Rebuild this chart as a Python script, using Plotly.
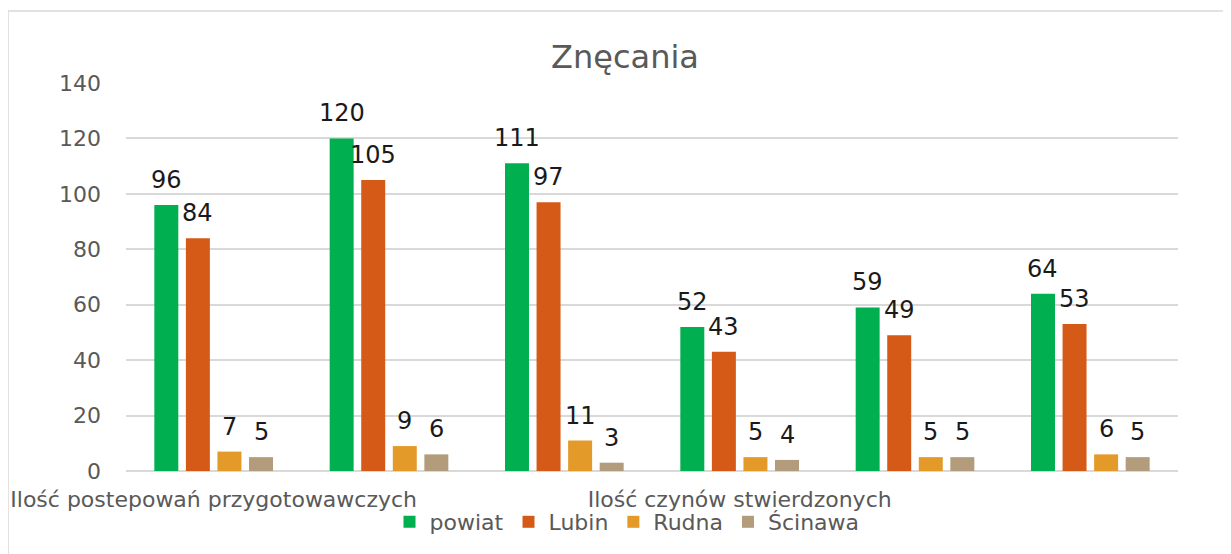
import plotly.graph_objects as go

groups = [0, 1, 2, 3, 4, 5]
tick_positions = [0, 3]
tick_labels = ["Ilość postepowań przygotowawczych", "Ilość czynów stwierdzonych"]

series_names = ["powiat", "Lubin", "Rudna", "Ścinawa"]
powiat = [96, 120, 111, 52, 59, 64]
lubin = [84, 105, 97, 43, 49, 53]
rudna = [7, 9, 11, 5, 5, 6]
scinawa = [5, 6, 3, 4, 5, 5]
series_values = [powiat, lubin, rudna, scinawa]
colors = ["#00B050", "#D65A17", "#E39A28", "#B39C7C"]

FONT = "DejaVu Sans"
W, H = 1231, 554
OFF = 8  # page body margin
# plot area in page pixels: x 126..1178, y 83..471
ml, mt = 126 - OFF, 83 - OFF
mr, mb = W - (1178 - OFF), H - (471 - OFF)
pw, ph = W - ml - mr, H - mt - mb
bargap = 0.28
slot = (1 - bargap) / len(series_names)

fig = go.Figure()
for name, vals, col in zip(series_names, series_values, colors):
    fig.add_trace(go.Bar(
        x=groups, y=vals, name=name,
        marker=dict(color=col, line=dict(width=0)),
    ))

annotations = []
for i, vals in enumerate(series_values):
    for j, v in zip(groups, vals):
        annotations.append(dict(
            x=j + (i - (len(series_names) - 1) / 2) * slot, y=v,
            xref="x", yref="y", text=str(v), showarrow=False,
            yanchor="bottom", xanchor="center", yshift=9,
            font=dict(family=FONT, size=24, color="#1a1a1a"),
        ))

px2x = lambda p: (p - OFF - ml) / pw
px2y = lambda p: (H - mb - (p - OFF)) / ph

fig.update_layout(
    width=W, height=H,
    margin=dict(l=ml, r=mr, t=mt, b=mb, autoexpand=False),
    paper_bgcolor="white", plot_bgcolor="white",
    barmode="group", bargap=bargap, bargroupgap=0.24,
    title=dict(text="Znęcania", x=(625 - OFF) / W, xref="container", xanchor="center",
               y=1 - (57 - OFF) / H, yref="container", yanchor="middle",
               font=dict(family=FONT, size=32, color="#595959")),
    font=dict(family=FONT, color="#595959"),
    xaxis=dict(range=[-0.5, 5.5], tickvals=tick_positions, ticktext=tick_labels,
               showgrid=False, zeroline=False, showline=False, ticks="", automargin=False,
               tickfont=dict(size=22, color="#595959"), ticklabelstandoff=13),
    yaxis=dict(range=[0, 140], dtick=20, showgrid=True, gridcolor="#d9d9d9",
               gridwidth=1.5, zeroline=True, zerolinecolor="#d9d9d9", zerolinewidth=1.5,
               showline=False, ticks="", automargin=False,
               tickfont=dict(size=22, color="#595959"), ticklabelstandoff=24),
    legend=dict(orientation="h", x=px2x(627), xanchor="center", y=px2y(522),
                yanchor="middle", font=dict(size=22, color="#595959"),
                bgcolor="rgba(0,0,0,0)", itemwidth=30, traceorder="normal"),
    annotations=annotations,
    shapes=[dict(type="rect", xref="paper", yref="paper",
                 x0=px2x(8), x1=px2x(W + 20), y0=px2y(H + 20), y1=px2y(11),
                 line=dict(color="#d9d9d9", width=1.5), fillcolor="rgba(0,0,0,0)",
                 layer="below")],
)

fig.write_html("out.html")
